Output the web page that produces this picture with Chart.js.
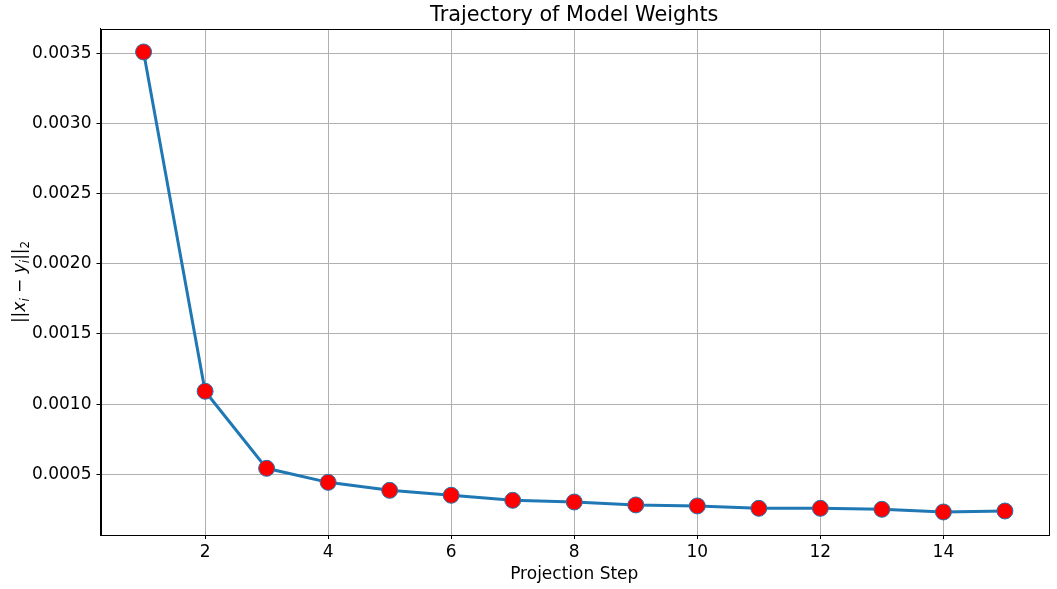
<!DOCTYPE html>
<html>
<head>
<meta charset="utf-8">
<script src="https://cdn.jsdelivr.net/npm/chart.js@4/dist/chart.umd.min.js"></script>
<style>
  html, body { margin: 0; padding: 0; background: #fff; }
  #wrap { width: 1057px; height: 589px; }
</style>
</head>
<body>
<div id="wrap"><canvas id="c"></canvas></div>
<script>
const steps = [1, 2, 3, 4, 5, 6, 7, 8, 9, 10, 11, 12, 13, 14, 15];
const dist = [0.003509, 0.001092, 0.000543, 0.000443, 0.000386, 0.000351, 0.000315,
              0.000303, 0.000282, 0.000275, 0.000258, 0.000258, 0.000251, 0.000232, 0.000239];
const xTicks = [2, 4, 6, 8, 10, 12, 14];
const yTicks = [0.0005, 0.0010, 0.0015, 0.0020, 0.0025, 0.0030, 0.0035];

const FONT = "'DejaVu Sans', sans-serif";

// y label ||x_i - y_i||_2, drawn rotated with italic math parts
const yLabel = [
  { t: '||' }, { t: 'x', it: 1 }, { t: 'i', it: 1, sub: 1 }, { t: ' \u2212 ' },
  { t: 'y', it: 1 }, { t: 'i', it: 1, sub: 1 }, { t: '||' }, { t: '2', sub: 1 }
];

const frame = {
  id: 'frame',
  afterDraw(chart) {
    const { ctx, chartArea: a } = chart;
    ctx.save();
    ctx.strokeStyle = '#000';
    ctx.lineWidth = 1;
    ctx.strokeRect(Math.round(a.left) + 0.5, Math.round(a.top) + 0.5,
                   Math.round(a.right - a.left), Math.round(a.bottom - a.top));

    const size = 17;
    const fontOf = p => (p.it ? 'italic ' : '') + (p.sub ? size * 0.7 : size) + 'px ' + FONT;
    let w = 0;
    yLabel.forEach(p => { ctx.font = fontOf(p); w += ctx.measureText(p.t).width; });
    ctx.translate(25, (a.top + a.bottom) / 2);
    ctx.rotate(-Math.PI / 2);
    ctx.fillStyle = '#000';
    ctx.textBaseline = 'alphabetic';
    let x = -w / 2;
    yLabel.forEach(p => {
      ctx.font = fontOf(p);
      ctx.fillText(p.t, x, p.sub ? 3.5 : 0);
      x += ctx.measureText(p.t).width;
    });
    ctx.restore();
  }
};

new Chart(document.getElementById('c'), {
  type: 'line',
  data: {
    labels: steps,
    datasets: [{
      data: steps.map((s, i) => ({ x: s, y: dist[i] })),
      borderColor: '#1f77b4',
      borderWidth: 3,
      pointRadius: 8,
      pointBackgroundColor: '#ff0000',
      pointBorderColor: '#1f77b4',
      pointBorderWidth: 1,
      tension: 0
    }]
  },
  options: {
    responsive: true,
    maintainAspectRatio: false,
    animation: false,
    layout: { padding: { left: 0, right: 7, top: 0, bottom: 0 } },
    plugins: {
      legend: { display: false },
      tooltip: { enabled: false },
      title: {
        display: true,
        fullSize: false,
        text: 'Trajectory of Model Weights',
        color: '#000',
        font: { family: FONT, size: 20.8, weight: 'normal' },
        padding: { top: 3, bottom: 1 }
      }
    },
    scales: {
      x: {
        type: 'linear',
        min: 0.3,
        max: 15.7,
        afterBuildTicks: s => { s.ticks = xTicks.map(v => ({ value: v })); },
        afterFit: s => { s.height = 54; },
        ticks: { color: '#000', font: { family: FONT, size: 17 }, padding: 3 },
        grid: { color: '#b0b0b0', lineWidth: 1, tickLength: 4, tickColor: '#000' },
        border: { color: '#000', width: 1 },
        title: {
          display: true,
          text: 'Projection Step',
          color: '#000',
          font: { family: FONT, size: 17 },
          padding: { top: 0, bottom: 4 }
        }
      },
      y: {
        min: 0.000068,
        max: 0.003673,
        afterBuildTicks: s => { s.ticks = yTicks.map(v => ({ value: v })); },
        afterFit: s => { s.width = 100.5; },
        ticks: {
          color: '#000',
          font: { family: FONT, size: 17 },
          padding: 5,
          callback: v => v.toFixed(4)
        },
        grid: { color: '#b0b0b0', lineWidth: 1, tickLength: 4, tickColor: '#000' },
        border: { color: '#000', width: 1 }
      }
    }
  },
  plugins: [frame]
});
</script>
</body>
</html>
